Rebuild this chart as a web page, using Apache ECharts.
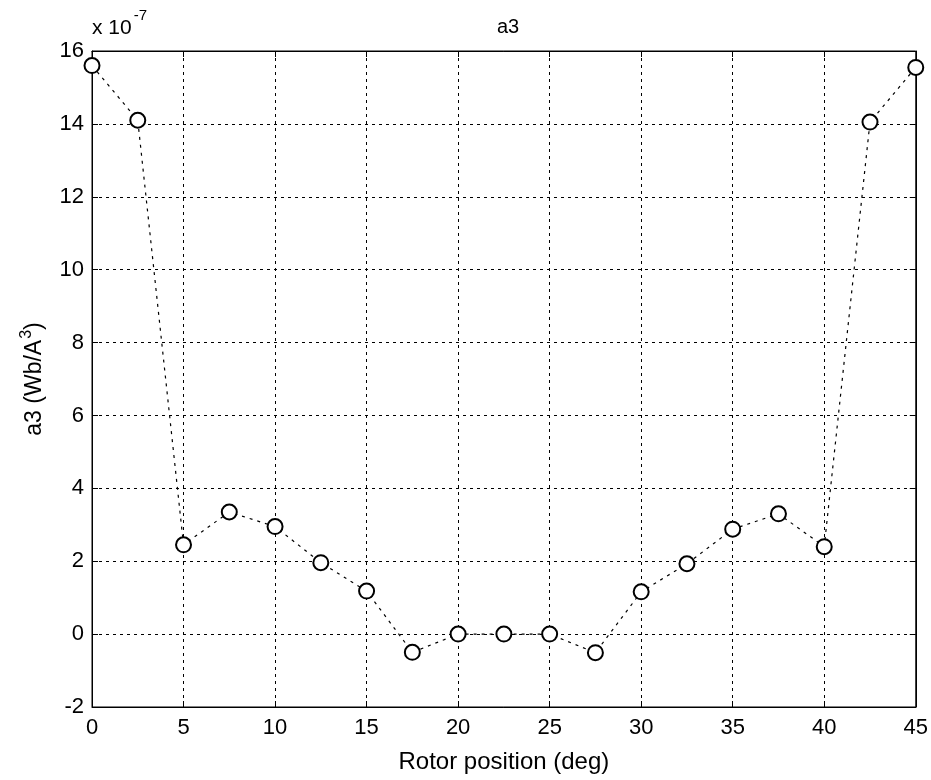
<!DOCTYPE html>
<html>
<head>
<meta charset="utf-8">
<script src="https://cdn.jsdelivr.net/npm/echarts@6/dist/echarts.min.js"></script>
<style>html,body{margin:0;padding:0;background:#fff;}#c{width:931px;height:780px;}</style>
</head>
<body>
<div id="c"></div>
<script>
const positions = [0, 2.5, 5, 7.5, 10, 12.5, 15, 17.5, 20, 22.5, 25, 27.5, 30, 32.5, 35, 37.5, 40, 42.5, 45];
const a3Values = [15.6, 14.1, 2.45, 3.35, 2.95, 1.96, 1.18, -0.5, 0.0, 0.0, 0.0, -0.51, 1.16, 1.93, 2.88, 3.3, 2.4, 14.05, 15.55];
const xTicks = [0, 5, 10, 15, 20, 25, 30, 35, 40, 45];
const yTicks = [-2, 0, 2, 4, 6, 8, 10, 12, 14, 16];

const chart = echarts.init(document.getElementById('c'));
const font = 'Liberation Sans, Arial, sans-serif';
const gridLine = {show: true, lineStyle: {color: '#000', width: 1, type: [3, 4]}};
chart.setOption({
  backgroundColor: '#fff',
  animation: false,
  title: {
    text: 'a3', left: 503, top: 12, textAlign: 'center',
    textStyle: {fontFamily: font, fontSize: 20, fontWeight: 'normal', color: '#000'}
  },
  graphic: [{
    type: 'text', left: 92, top: 8,
    style: {
      rich: {
        b: {fontFamily: font, fontSize: 21, color: '#000', padding: [16, 0, 0, 0]},
        s: {fontFamily: font, fontSize: 15, color: '#000', padding: [0, 0, 10, 2]}
      },
      text: '{b|x 10}{s|-7}'
    }
  }],
  grid: {left: 92, top: 51, right: 15, bottom: 73, show: true, borderColor: '#000', borderWidth: 1},
  xAxis: [{
    type: 'value', min: 0, max: 45, interval: 5,
    name: 'Rotor position (deg)', nameLocation: 'middle', nameGap: 43,
    nameTextStyle: {fontFamily: font, fontSize: 24, color: '#000'},
    axisLine: {show: true, onZero: false, lineStyle: {color: '#000', width: 1}},
    axisTick: {show: true, inside: true, length: 6, lineStyle: {color: '#000'}},
    axisLabel: {fontFamily: font, fontSize: 22, color: '#000', margin: 10},
    splitLine: gridLine
  }, {
    type: 'value', min: 0, max: 45, interval: 5, position: 'top',
    axisLine: {show: true, onZero: false, lineStyle: {color: '#000'}},
    axisTick: {show: true, inside: true, length: 6, lineStyle: {color: '#000'}},
    axisLabel: {show: false}, splitLine: {show: false}
  }],
  yAxis: [{
    type: 'value', min: -2, max: 16, interval: 2,
    name: '{n|a3 (Wb/A}{s|3}{n|)}', nameLocation: 'middle', nameGap: 46,
    nameTextStyle: {
      rich: {
        n: {fontFamily: font, fontSize: 23, color: '#000', padding: [8, 0, 0, 0]},
        s: {fontFamily: font, fontSize: 16, color: '#000', padding: [0, 0, 8, 1]}
      }
    },
    axisLine: {show: true, onZero: false, lineStyle: {color: '#000', width: 1}},
    axisTick: {show: true, inside: true, length: 6, lineStyle: {color: '#000'}},
    axisLabel: {fontFamily: font, fontSize: 22, color: '#000', margin: 8},
    splitLine: gridLine
  }, {
    type: 'value', min: -2, max: 16, interval: 2, position: 'right',
    axisLine: {show: true, onZero: false, lineStyle: {color: '#000'}},
    axisTick: {show: true, inside: true, length: 6, lineStyle: {color: '#000'}},
    axisLabel: {show: false}, splitLine: {show: false}
  }],
  series: [{
    type: 'line',
    data: positions.map((p, i) => [p, a3Values[i]]),
    symbol: 'emptyCircle', symbolSize: 15,
    itemStyle: {color: '#000', borderColor: '#000', borderWidth: 1.2},
    lineStyle: {color: '#000', width: 1.2, type: [3, 5]},
    clip: false
  }]
});
</script>
</body>
</html>
